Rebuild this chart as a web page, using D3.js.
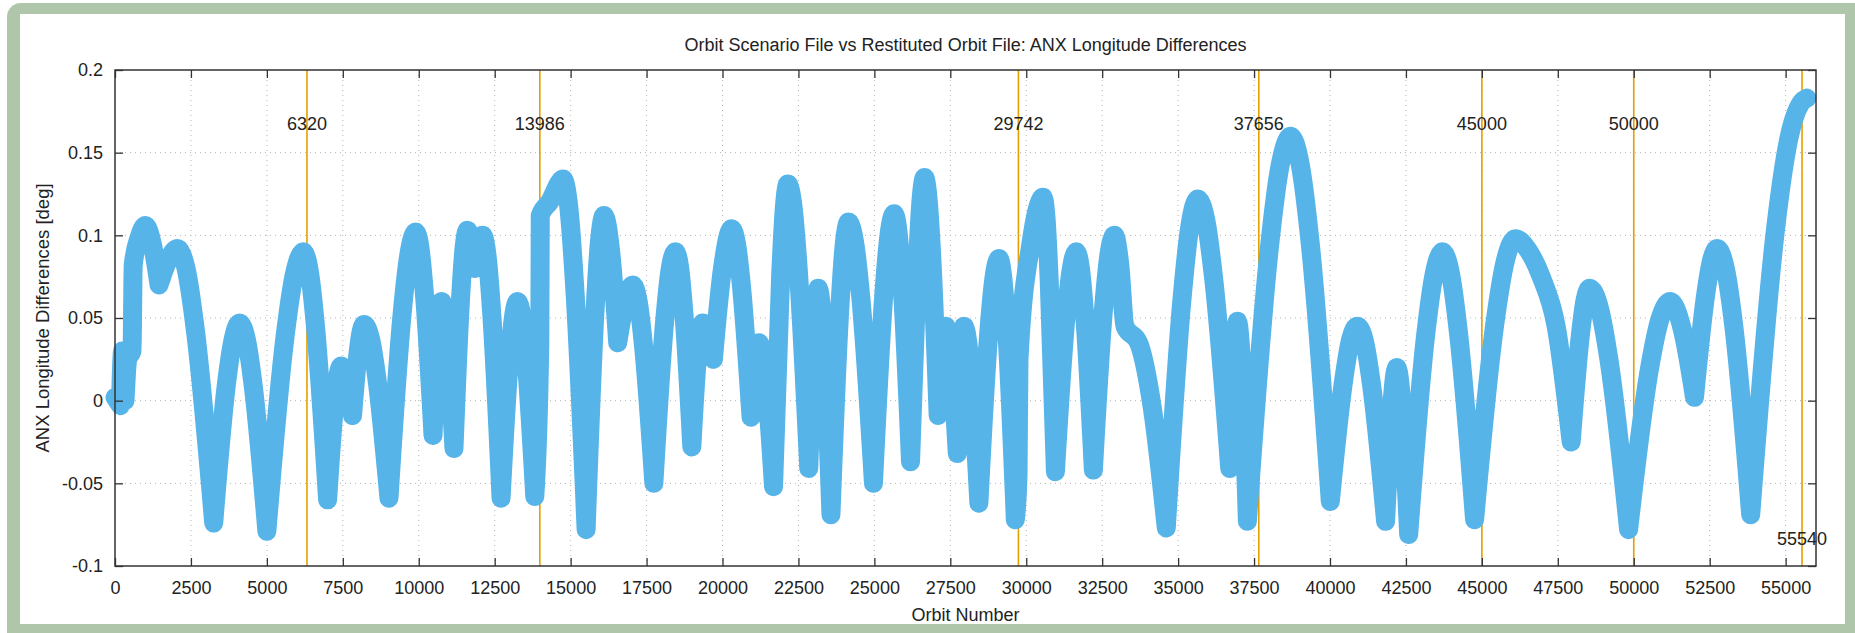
<!DOCTYPE html>
<html>
<head>
<meta charset="utf-8">
<script src="https://cdn.jsdelivr.net/npm/d3@7"></script>
<style>
  body { margin: 0; background: #fff; }
  text { font-family: "Liberation Sans", Arial, sans-serif; fill: #222; }
</style>
</head>
<body>
<script>
// [orbit number, ANX longitude difference in deg]
var anxDiff = [
  [0, 0.002], [180, -0.003], [250, 0.03], [330, 0.0], [420, 0.025], [560, 0.03], [600, 0.082], [800, 0.099],
  [1000, 0.106], [1225, 0.095], [1450, 0.07], [1750, 0.085], [2050, 0.092], [2350, 0.079], [2650, 0.042],
  [3250, -0.074], [3675, 0.011], [3888, 0.037], [4100, 0.047], [4325, 0.037], [4550, 0.009], [5000, -0.079],
  [5600, 0.039], [5900, 0.076], [6200, 0.09], [6400, 0.078], [6600, 0.045], [7000, -0.06], [7225, -0.003],
  [7338, 0.015], [7450, 0.021], [7635, 0.012], [7820, -0.009], [8010, 0.03], [8105, 0.042], [8200, 0.046],
  [8405, 0.038], [8610, 0.015], [9020, -0.059], [9460, 0.054], [9680, 0.089], [9900, 0.102], [10043, 0.092],
  [10185, 0.065], [10470, -0.021], [10610, 0.036], [10750, 0.06], [10955, 0.033], [11160, -0.029], [11380, 0.063],
  [11490, 0.092], [11600, 0.103], [11850, 0.08], [12100, 0.1], [12253, 0.087], [12405, 0.052], [12710, -0.059],
  [12980, 0.024], [13115, 0.05], [13250, 0.06], [13393, 0.051], [13535, 0.025], [13820, -0.058], [13986, 0.035],
  [14000, 0.112], [14300, 0.12], [14750, 0.134], [14940, 0.117], [15130, 0.07], [15510, -0.078], [15805, 0.055],
  [15953, 0.097], [16100, 0.112], [16325, 0.089], [16550, 0.035], [16800, 0.06], [17050, 0.07], [17223, 0.06],
  [17395, 0.034], [17740, -0.05], [18095, 0.048], [18273, 0.079], [18450, 0.09], [18585, 0.081], [18720, 0.055],
  [18990, -0.028], [19170, 0.025], [19350, 0.047], [19525, 0.04], [19700, 0.025], [20000, 0.08], [20300, 0.104],
  [20460, 0.095], [20620, 0.07], [20940, -0.01], [21070, 0.022], [21200, 0.035], [21440, 0.009], [21680, -0.052],
  [21915, 0.076], [22033, 0.116], [22150, 0.131], [22323, 0.117], [22495, 0.079], [22840, -0.041], [22995, 0.035],
  [23150, 0.068], [23360, 0.027], [23570, -0.069], [23860, 0.055], [24005, 0.094], [24150, 0.108], [24355, 0.095],
  [24560, 0.061], [24970, -0.05], [25310, 0.064], [25480, 0.1], [25650, 0.113], [25785, 0.101], [25920, 0.068],
  [26190, -0.037], [26420, 0.083], [26535, 0.121], [26650, 0.135], [26763, 0.123], [26875, 0.092], [27100, -0.009],
  [27225, 0.029], [27350, 0.045], [27540, 0.022], [27730, -0.032], [27840, 0.022], [27950, 0.045], [28195, 0.013],
  [28440, -0.062], [28770, 0.042], [28935, 0.074], [29100, 0.086], [29235, 0.073], [29370, 0.039], [29640, -0.072],
  [29730, -0.045], [29760, 0.025], [30155, 0.095], [30350, 0.115], [30550, 0.123], [30653, 0.11], [30755, 0.073],
  [30960, -0.043], [31305, 0.05], [31478, 0.079], [31650, 0.09], [31790, 0.079], [31930, 0.05], [32210, -0.042],
  [32555, 0.058], [32728, 0.089], [32900, 0.1], [33075, 0.083], [33250, 0.045], [33700, 0.035], [34155, -0.005],
  [34610, -0.077], [35130, 0.062], [35390, 0.106], [35650, 0.122], [35913, 0.109], [36175, 0.073], [36700, -0.041],
  [36825, 0.021], [36950, 0.048], [37115, 0.012], [37280, -0.073], [37990, 0.09], [38345, 0.141], [38700, 0.16],
  [39028, 0.142], [39355, 0.094], [40010, -0.061], [40455, 0.013], [40678, 0.037], [40900, 0.045], [41133, 0.036],
  [41365, 0.01], [41830, -0.073], [42200, 0.02], [42590, -0.081], [43145, 0.039], [43423, 0.076], [43700, 0.09],
  [43965, 0.077], [44230, 0.041], [44760, -0.072], [45430, 0.047], [45765, 0.084], [46100, 0.098], [46525, 0.091],
  [46950, 0.075], [47445, 0.045], [47940, -0.025], [48245, 0.04], [48398, 0.061], [48550, 0.068], [48870, 0.056],
  [49190, 0.024], [49830, -0.078], [50515, 0.019], [50858, 0.049], [51200, 0.06], [51600, 0.043], [52000, 0.002],
  [52375, 0.065], [52563, 0.085], [52750, 0.092], [53025, 0.079], [53300, 0.044], [53850, -0.069], [54675, 0.105],
  [55100, 0.158], [55500, 0.18], [55700, 0.183]
];

// marked orbits (vertical lines)
var markers = [6320, 13986, 29742, 37656, 45000, 50000, 55540];

var xTickValues = [0, 2500, 5000, 7500, 10000, 12500, 15000, 17500, 20000, 22500, 25000, 27500, 30000,
  32500, 35000, 37500, 40000, 42500, 45000, 47500, 50000, 52500, 55000];
var yTickValues = [-0.1, -0.05, 0, 0.05, 0.1, 0.15, 0.2];

var svgWidth = 1855;
var svgHeight = 633;

var margin = { top: 70, right: 39, bottom: 67, left: 115 };
var chartWidth = svgWidth - margin.left - margin.right;
var chartHeight = svgHeight - margin.top - margin.bottom;

var svg = d3.select("body")
  .append("svg")
  .attr("width", svgWidth)
  .attr("height", svgHeight);

// green frame round the picture
svg.append("rect")
  .attr("x", 7).attr("y", 3)
  .attr("width", 1870).attr("height", 650)
  .attr("rx", 14)
  .attr("fill", "#b0c6aa");
svg.append("rect")
  .attr("x", 20).attr("y", 14)
  .attr("width", 1825).attr("height", 610)
  .attr("fill", "#fff");

var chartGroup = svg.append("g")
  .attr("transform", `translate(${margin.left}, ${margin.top})`);

var xScale = d3.scaleLinear().domain([0, 56000]).range([0, chartWidth]);
var yScale = d3.scaleLinear().domain([-0.1, 0.2]).range([chartHeight, 0]);

// dotted grid
chartGroup.append("g")
  .selectAll("line")
  .data(xTickValues.slice(1))
  .enter()
  .append("line")
  .attr("x1", d => xScale(d)).attr("x2", d => xScale(d))
  .attr("y1", 0).attr("y2", chartHeight)
  .attr("stroke", "#b5b5b5")
  .attr("stroke-dasharray", "1,4");

chartGroup.append("g")
  .selectAll("line")
  .data(yTickValues.slice(1, -1))
  .enter()
  .append("line")
  .attr("x1", 0).attr("x2", chartWidth)
  .attr("y1", d => yScale(d)).attr("y2", d => yScale(d))
  .attr("stroke", "#b5b5b5")
  .attr("stroke-dasharray", "1,4");

// orange marker lines
chartGroup.append("g")
  .selectAll("line")
  .data(markers)
  .enter()
  .append("line")
  .attr("x1", d => xScale(d)).attr("x2", d => xScale(d))
  .attr("y1", 0).attr("y2", chartHeight)
  .attr("stroke", "#e69f00")
  .attr("stroke-width", 1.6);

// data band: split at the troughs so they stay sharp, humps drawn smooth
var line = d3.line()
  .x(d => xScale(d[0]))
  .y(d => yScale(d[1]))
  .curve(d3.curveMonotoneX);

var cuts = [0];
for (var i = 1; i < anxDiff.length - 1; i++) {
  if (anxDiff[i][1] < anxDiff[i - 1][1] && anxDiff[i][1] < anxDiff[i + 1][1]) cuts.push(i);
}
cuts.push(anxDiff.length - 1);
var bandPath = "";
for (var k = 1; k < cuts.length; k++) {
  bandPath += line(anxDiff.slice(cuts[k - 1], cuts[k] + 1));
}

chartGroup.append("path")
  .attr("d", bandPath)
  .attr("fill", "none")
  .attr("stroke", "#56b4e9")
  .attr("stroke-width", 19)
  .attr("stroke-linejoin", "round")
  .attr("stroke-linecap", "round");

// marker labels
chartGroup.append("g")
  .selectAll("text")
  .data(markers)
  .enter()
  .append("text")
  .attr("x", d => xScale(d))
  .attr("y", d => d === 55540 ? yScale(-0.0837) : yScale(0.1677))
  .attr("dy", "0.35em")
  .attr("text-anchor", "middle")
  .style("font-size", "18px")
  .text(d => d);

// axes with inward ticks, mirrored on top and right
var bottomAxis = d3.axisBottom(xScale).tickValues(xTickValues).tickSizeInner(-8).tickSizeOuter(0).tickPadding(15)
  .tickFormat(d => String(d));
var topAxis = d3.axisTop(xScale).tickValues(xTickValues).tickSizeInner(-8).tickSizeOuter(0).tickFormat("");
var leftAxis = d3.axisLeft(yScale).tickValues(yTickValues).tickSizeInner(-8).tickSizeOuter(0).tickPadding(12)
  .tickFormat(d => String(d));
var rightAxis = d3.axisRight(yScale).tickValues(yTickValues).tickSizeInner(-8).tickSizeOuter(0).tickFormat("");

var gb = chartGroup.append("g").attr("transform", `translate(0, ${chartHeight})`).call(bottomAxis);
var gt = chartGroup.append("g").call(topAxis);
var gl = chartGroup.append("g").call(leftAxis);
var gr = chartGroup.append("g").attr("transform", `translate(${chartWidth}, 0)`).call(rightAxis);

[gb, gt, gl, gr].forEach(g => {
  g.select(".domain").remove();
  g.selectAll("line").attr("stroke", "#333").attr("stroke-width", 1.3);
  g.selectAll("text").style("font-size", "18px").attr("fill", "#222")
    .style("font-family", "'Liberation Sans', Arial, sans-serif");
});

chartGroup.append("rect")
  .attr("width", chartWidth)
  .attr("height", chartHeight)
  .attr("fill", "none")
  .attr("stroke", "#333")
  .attr("stroke-width", 1.5);

// titles
svg.append("text")
  .attr("x", margin.left + chartWidth / 2)
  .attr("y", 51)
  .attr("text-anchor", "middle")
  .style("font-size", "18px")
  .text("Orbit Scenario File vs Restituted Orbit File: ANX Longitude Differences");

svg.append("text")
  .attr("x", margin.left + chartWidth / 2)
  .attr("y", 621)
  .attr("text-anchor", "middle")
  .style("font-size", "18px")
  .text("Orbit Number");

svg.append("text")
  .attr("transform", `translate(49, ${margin.top + chartHeight / 2}) rotate(-90)`)
  .attr("text-anchor", "middle")
  .style("font-size", "18.5px")
  .text("ANX Longitude Differences [deg]");
</script>
</body>
</html>
